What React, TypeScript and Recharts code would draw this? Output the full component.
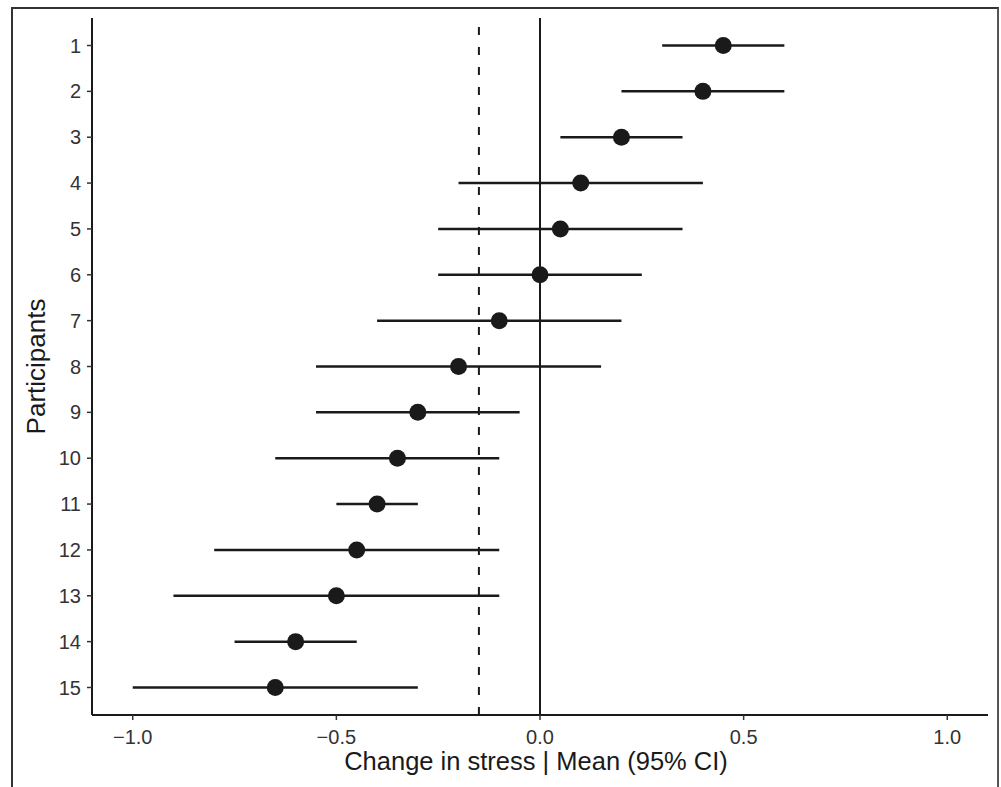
import React from 'react';
import {
  ComposedChart,
  Scatter,
  ErrorBar,
  XAxis,
  YAxis,
  ReferenceLine
} from 'recharts';

// Per-participant change in stress, mean and 95% CI
const participants = [1, 2, 3, 4, 5, 6, 7, 8, 9, 10, 11, 12, 13, 14, 15];
const means = [0.45, 0.4, 0.2, 0.1, 0.05, 0.0, -0.1, -0.2, -0.3, -0.35, -0.4, -0.45, -0.5, -0.6, -0.65];
const lower = [0.3, 0.2, 0.05, -0.2, -0.25, -0.25, -0.4, -0.55, -0.55, -0.65, -0.5, -0.8, -0.9, -0.75, -1.0];
const upper = [0.6, 0.6, 0.35, 0.4, 0.35, 0.25, 0.2, 0.15, -0.05, -0.1, -0.3, -0.1, -0.1, -0.45, -0.3];
const xTicks = [-1.0, -0.5, 0.0, 0.5, 1.0];
const pooledMean = -0.15;

const rows = participants.map((p, i) => ({
  participant: p,
  mean: means[i],
  err: [means[i] - lower[i], upper[i] - means[i]]
}));

const INK = '#1a1a1a';
const FONT = '"Liberation Sans", Arial, Helvetica, sans-serif';

const fmt = (v: number) => (v < 0 ? '\u2212' : '') + Math.abs(v).toFixed(1);

const Dot = (props: any) => <circle cx={props.cx} cy={props.cy} r={8.5} fill={INK} />;

const App: React.FC = () => {
  return (
    <div style={{ position: 'fixed', left: 0, top: 0, width: 1001, height: 787, background: '#fff', fontFamily: FONT }}>
      <div
        style={{
          position: 'absolute',
          left: 11,
          top: 7,
          width: 988,
          height: 780,
          boxSizing: 'border-box',
          borderTop: '2px solid #333',
          borderLeft: '2px solid #333',
          borderRight: '2px solid #555'
        }}
      />
      <ComposedChart
        width={1001}
        height={787}
        data={rows}
        margin={{ top: 18, right: 13, left: 0, bottom: 0 }}
        style={{ position: 'absolute', left: 0, top: 0 }}
      >
        <XAxis
          type="number"
          dataKey="mean"
          domain={[-1.1, 1.1]}
          ticks={xTicks}
          tickFormatter={fmt}
          height={72}
          allowDataOverflow
          axisLine={{ stroke: INK, strokeWidth: 2 }}
          tickLine={{ stroke: '#333', strokeWidth: 1.5 }}
          tickSize={5}
          tickMargin={10}
          tick={{ fill: '#333', fontSize: 20, fontFamily: FONT }}
          label={{ value: 'Change in stress | Mean (95% CI)', position: 'insideBottom', offset: 17, dx: -4, style: { fill: INK, fontSize: 25.5, fontFamily: FONT } }}
        />
        <YAxis
          type="number"
          dataKey="participant"
          domain={[0.4, 15.6]}
          reversed
          ticks={participants}
          interval={0}
          width={92}
          allowDataOverflow
          axisLine={{ stroke: INK, strokeWidth: 2 }}
          tickLine={{ stroke: '#333', strokeWidth: 1.5 }}
          tickSize={5}
          tickMargin={6}
          tick={{ fill: '#333', fontSize: 20, fontFamily: FONT }}
          label={{ value: 'Participants', angle: -90, position: 'insideLeft', offset: 36, style: { fill: INK, fontSize: 26, fontFamily: FONT, textAnchor: 'middle' } }}
        />
        <ReferenceLine x={0} stroke={INK} strokeWidth={2} />
        <ReferenceLine x={pooledMean} stroke={INK} strokeWidth={2} strokeDasharray="8 12" />
        <Scatter dataKey="mean" fill={INK} shape={Dot} isAnimationActive={false}>
          <ErrorBar dataKey="err" direction="x" width={0} stroke={INK} strokeWidth={2.5} isAnimationActive={false} />
        </Scatter>
      </ComposedChart>
    </div>
  );
};

export default App;
